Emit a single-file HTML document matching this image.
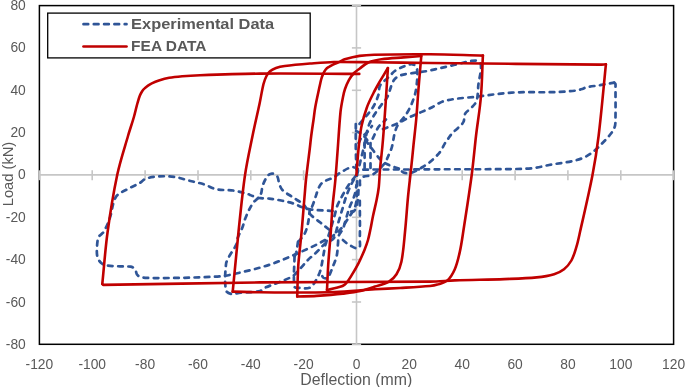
<!DOCTYPE html>
<html><head><meta charset="utf-8"><title>Load vs Deflection</title>
<style>html,body{margin:0;padding:0;background:#fff}svg{display:block}text{font-family:"Liberation Sans",sans-serif;fill:#595959}</style></head><body>
<svg width="685" height="387" viewBox="0 0 685 387">
<rect width="685" height="387" fill="#fff"/>
<rect x="39.4" y="5.6" width="634.2" height="338.7" fill="none" stroke="#000" stroke-width="1.5"/>
<g stroke="#c6c6c6" stroke-width="1.6" fill="none">
<line x1="39.4" y1="174.9" x2="673.6" y2="174.9" stroke-width="1.8"/>
<line x1="356.5" y1="5.6" x2="356.5" y2="344.3"/>
<line x1="39.4" y1="170.3" x2="39.4" y2="180.2"/>
<line x1="92.2" y1="170.3" x2="92.2" y2="180.2"/>
<line x1="145.1" y1="170.3" x2="145.1" y2="180.2"/>
<line x1="198.0" y1="170.3" x2="198.0" y2="180.2"/>
<line x1="250.8" y1="170.3" x2="250.8" y2="180.2"/>
<line x1="303.6" y1="170.3" x2="303.6" y2="180.2"/>
<line x1="356.5" y1="170.3" x2="356.5" y2="180.2"/>
<line x1="409.3" y1="170.3" x2="409.3" y2="180.2"/>
<line x1="462.2" y1="170.3" x2="462.2" y2="180.2"/>
<line x1="515.1" y1="170.3" x2="515.1" y2="180.2"/>
<line x1="567.9" y1="170.3" x2="567.9" y2="180.2"/>
<line x1="620.8" y1="170.3" x2="620.8" y2="180.2"/>
<line x1="673.6" y1="170.3" x2="673.6" y2="180.2"/>
<line x1="351.9" y1="344.3" x2="361.1" y2="344.3"/>
<line x1="351.9" y1="302.0" x2="361.1" y2="302.0"/>
<line x1="351.9" y1="259.6" x2="361.1" y2="259.6"/>
<line x1="351.9" y1="217.3" x2="361.1" y2="217.3"/>
<line x1="351.9" y1="174.9" x2="361.1" y2="174.9"/>
<line x1="351.9" y1="132.6" x2="361.1" y2="132.6"/>
<line x1="351.9" y1="90.3" x2="361.1" y2="90.3"/>
<line x1="351.9" y1="47.9" x2="361.1" y2="47.9"/>
<line x1="351.9" y1="5.6" x2="361.1" y2="5.6"/>
</g>
<g fill="none" stroke="#2f5597" stroke-width="2.7" stroke-linecap="round" stroke-linejoin="round" stroke-dasharray="4.6 5.6">
<path d="M383.0 129.0 C387.4 127.3 392.0 125.8 396.3 123.9 C401.3 121.7 406.0 118.8 411.0 116.5 C417.3 113.6 423.7 111.2 430.0 108.3 C435.0 106.0 439.5 102.1 444.9 100.8 C455.4 98.2 466.3 97.9 477.0 96.6 C488.6 95.2 500.2 93.3 511.9 92.6 C525.9 91.8 540.0 92.5 554.0 92.1 C561.0 91.9 568.0 91.5 575.0 90.7 C577.5 90.4 579.9 89.7 582.3 89.0 C583.6 88.6 584.7 87.7 586.0 87.4 C590.6 86.4 595.3 86.0 600.0 85.2 C604.7 84.4 609.5 83.5 614.2 82.7"/>
<path d="M614.2 82.7 C614.6 83.1 615.2 83.3 615.4 83.8 C615.7 84.8 615.5 85.9 615.5 87.0 C615.5 98.7 615.7 110.3 615.4 122.0 C615.4 123.9 615.2 125.8 614.5 127.5 C613.7 129.7 612.4 131.7 611.0 133.5 C608.7 136.5 606.1 139.3 603.5 142.0 C600.4 145.2 597.3 148.5 593.8 151.3 C591.1 153.5 588.2 155.5 585.0 157.0 C581.5 158.7 577.7 159.9 573.9 160.8 C565.7 162.6 557.3 163.5 549.1 165.0 C544.1 165.9 539.2 167.4 534.2 168.0 C528.4 168.7 522.6 168.9 516.8 169.0 C487.9 169.4 458.9 169.2 430.0 169.3 C421.2 169.3 412.4 169.5 403.6 169.5 C393.1 169.5 382.5 169.5 372.0 169.5 C368.0 169.5 364.0 170.0 360.0 169.5 C357.2 169.2 354.7 166.8 352.0 167.2 C348.1 167.7 344.7 170.2 341.3 172.1 C338.2 173.8 335.6 176.3 332.5 178.0 C329.7 179.5 326.3 179.9 323.6 181.7 C321.7 182.9 320.2 184.8 319.2 186.8 C317.5 190.0 316.7 193.7 315.5 197.1 C314.3 200.4 313.4 203.8 311.9 207.0 C311.5 207.9 310.5 208.5 309.8 209.3"/>
<path d="M332.6 211.0 C325.0 210.4 317.4 210.3 309.8 209.3 C307.0 208.9 304.2 208.0 301.5 207.0 C299.0 206.1 296.7 204.6 294.2 203.8 C290.3 202.5 286.4 201.6 282.4 200.8 C278.0 199.9 273.6 199.1 269.1 198.6 C265.7 198.2 262.2 198.5 258.8 197.9 C255.8 197.3 252.9 196.0 250.0 195.0 C249.6 194.8 249.2 194.4 248.8 194.3 C243.9 193.0 239.0 191.4 233.9 190.6 C228.2 189.7 222.3 190.5 216.6 189.3 C212.2 188.4 208.4 185.7 204.1 184.4 C199.2 182.9 194.2 181.9 189.3 180.7 C184.3 179.4 179.5 177.6 174.4 176.9 C169.5 176.2 164.5 176.1 159.5 176.4 C154.9 176.7 150.2 177.2 145.8 178.7 C143.4 179.5 141.8 181.8 139.6 183.1 C135.6 185.4 131.2 187.0 127.2 189.3 C123.3 191.6 118.3 193.0 116.0 196.8 C112.2 203.1 112.3 211.0 109.9 217.9 C108.2 222.8 106.2 227.6 103.6 232.0 C102.4 234.0 99.6 234.9 98.7 237.0 C97.3 240.1 97.2 243.6 97.0 246.9 C96.8 250.2 96.6 253.6 97.4 256.8 C98.0 259.1 99.4 261.4 101.2 263.0 C102.9 264.5 105.2 265.1 107.4 265.5 C111.5 266.2 115.8 266.1 120.0 266.3 C123.5 266.5 127.0 266.2 130.5 266.7 C131.8 266.9 133.0 267.4 134.0 268.2 C134.9 268.9 135.3 270.0 135.8 271.0 C136.3 272.1 136.3 273.5 137.0 274.5 C137.7 275.5 138.8 276.4 140.0 276.8 C142.3 277.6 144.7 277.8 147.1 277.9 C157.0 278.2 166.9 278.0 176.8 277.9 C185.1 277.8 193.4 277.6 201.7 277.2 C209.1 276.9 216.6 276.9 224.0 275.9 C230.7 275.0 237.2 273.2 243.8 271.7 C247.5 270.9 251.3 270.0 255.0 269.0 C260.9 267.4 266.8 265.7 272.6 263.7 C278.5 261.6 284.2 259.1 290.0 256.7 C295.9 254.2 301.8 251.5 307.7 248.8 C312.5 246.6 317.2 244.4 321.8 241.8 C327.3 238.7 333.2 236.2 337.9 232.0 C342.2 228.1 345.2 222.9 348.4 218.0 C351.0 214.1 354.0 210.3 355.4 205.8 C357.0 200.7 356.7 195.3 357.0 190.0 C357.3 185.0 357.0 180.0 357.0 175.0"/>
<path d="M329.0 229.5 C326.1 227.2 323.2 224.8 320.3 222.5 C317.1 219.9 313.4 217.7 310.6 214.6 C307.8 211.6 306.5 207.6 303.7 204.6 C301.9 202.6 299.3 201.5 297.0 200.0 C295.2 198.8 293.2 197.6 291.4 196.4 C288.4 194.4 285.1 192.8 282.6 190.2 C281.0 188.5 280.1 186.2 279.3 184.0 C278.4 181.8 278.6 179.2 277.6 177.0 C277.1 175.8 276.1 174.9 275.0 174.2 C274.1 173.7 273.0 173.5 272.0 173.6 C270.9 173.7 269.9 174.0 269.0 174.6 C268.0 175.3 267.2 176.3 266.6 177.3 C265.0 180.0 263.6 182.8 262.6 185.8 C261.8 188.0 262.0 190.5 261.3 192.8 C260.9 194.2 260.1 195.6 259.2 196.8 C257.3 199.2 254.4 200.8 252.7 203.4 C249.8 207.8 247.7 212.6 245.7 217.4 C244.2 220.8 243.6 224.5 242.2 228.0 C240.9 231.3 239.0 234.3 237.8 237.6 C237.0 239.8 237.4 242.3 236.4 244.4 C234.4 248.8 231.2 252.5 229.0 256.8 C227.8 259.2 226.2 261.6 226.0 264.3 C225.2 272.9 224.4 281.8 226.0 290.3 C226.4 292.4 229.3 293.6 231.4 294.0 C233.9 294.5 236.4 293.1 238.9 292.8 C245.9 292.1 253.1 292.4 260.0 291.0 C262.1 290.6 263.5 288.4 265.5 287.5 C270.7 285.2 276.2 283.5 281.4 281.3 C285.3 279.7 289.3 278.4 292.8 276.0 C295.9 273.9 298.1 270.8 300.7 268.1 C303.1 265.5 305.2 262.7 307.7 260.2 C310.5 257.4 313.6 255.0 316.5 252.3 C319.5 249.4 322.1 246.1 325.3 243.5 C327.8 241.5 331.3 240.8 333.5 238.5 C335.1 236.8 335.3 234.2 336.0 232.0 C337.1 228.5 337.7 224.9 338.7 221.4 C340.0 216.9 341.3 212.5 342.7 208.0 C344.0 203.7 345.1 199.2 346.7 195.0 C348.2 190.9 350.1 186.9 352.0 183.0 C353.2 180.6 354.7 178.3 356.0 176.0"/>
<path d="M357.0 175.0 C359.3 165.7 361.7 156.4 363.9 147.0 C365.5 140.3 366.2 133.4 368.3 126.8 C369.6 122.6 371.9 118.8 374.2 115.0 C376.4 111.4 379.0 108.1 381.5 104.7 C383.4 102.1 385.9 99.9 387.4 97.0 C389.4 93.0 390.2 88.4 391.9 84.2 C392.7 82.4 393.4 80.4 394.8 79.0 C396.4 77.3 398.5 76.0 400.7 75.3 C404.5 74.0 408.6 73.7 412.5 73.1 C417.4 72.3 422.3 72.0 427.2 71.0 C436.5 69.2 445.6 66.8 454.8 64.8 C461.8 63.3 468.8 60.6 476.0 60.6 C478.2 60.6 480.7 62.7 480.9 64.8 C481.6 71.5 479.1 78.1 478.4 84.7 C477.9 89.0 478.0 93.3 477.3 97.6 C477.0 99.5 476.6 101.4 475.6 103.0 C474.1 105.3 471.9 107.0 470.0 109.0 C468.4 110.6 466.2 111.6 465.2 113.6 C463.9 116.2 464.7 119.4 463.4 122.0 C462.2 124.4 459.9 126.1 458.0 128.0 C456.3 129.7 454.3 131.0 452.7 132.7 C450.9 134.6 449.5 136.9 448.0 139.0 C446.9 140.4 445.8 141.9 444.9 143.4 C443.2 146.2 442.1 149.4 440.0 152.0 C437.1 155.7 433.6 159.0 430.0 162.0 C427.2 164.3 424.1 166.1 421.0 168.0 C418.7 169.4 416.5 170.8 414.0 171.8 C412.1 172.6 410.0 173.1 408.0 173.2 C406.5 173.3 404.9 173.0 403.5 172.5 C402.3 172.1 401.6 170.9 400.5 170.3 C399.7 169.9 398.8 169.8 398.0 169.5"/>
<path d="M359.5 123.9 C363.9 118.5 368.9 113.5 372.7 107.7 C375.3 103.6 377.1 99.0 378.6 94.4 C379.5 91.6 378.5 88.2 380.0 85.7 C382.1 82.1 386.0 79.8 389.0 76.8 C390.9 74.9 392.6 72.6 394.8 71.0 C397.5 69.1 400.5 67.7 403.6 66.5 C406.5 65.4 409.5 64.0 412.5 64.3 C414.4 64.5 416.6 66.1 416.9 68.0 C417.9 74.8 417.1 81.8 416.2 88.6 C415.6 93.1 414.1 97.5 412.5 101.8 C410.9 105.9 408.9 109.9 406.6 113.6 C404.0 117.7 400.3 121.1 397.7 125.3 C396.3 127.6 395.5 130.1 394.8 132.7 C393.5 137.4 393.2 142.3 391.9 147.0 C391.0 150.2 389.5 153.2 388.2 156.2 C387.1 158.7 386.3 161.5 384.5 163.6 C381.0 167.7 377.3 171.7 372.7 174.6 C369.2 176.8 363.7 175.2 361.0 178.3 C358.7 180.9 360.5 185.2 360.2 188.6"/>
<path d="M294.5 256.7 C294.5 266.7 293.1 276.7 294.5 286.6 C294.7 288.1 297.4 287.7 298.9 287.8 C302.4 288.1 306.2 289.0 309.5 287.8 C311.9 286.9 313.4 284.4 314.8 282.2 C316.9 278.9 318.7 275.3 320.0 271.6 C321.4 267.6 321.9 263.4 322.7 259.3 C323.6 254.6 324.2 249.9 325.3 245.3 C325.8 243.2 326.6 241.2 327.3 239.2 C328.5 235.5 329.8 231.8 331.0 228.0 C332.3 223.6 333.5 219.2 334.8 214.8 C335.7 211.7 336.2 208.5 337.4 205.5 C338.9 201.9 340.8 198.4 342.7 195.0 C344.5 191.7 346.4 188.3 348.5 185.2 C350.7 182.0 353.2 179.1 355.5 176.0"/>
<path d="M298.0 241.8 C297.4 245.3 297.1 248.8 296.3 252.3 C295.9 253.8 295.1 255.2 294.5 256.7"/>
<path d="M309.8 209.3 C309.2 214.0 309.0 218.8 308.0 223.4 C307.2 227.0 306.3 230.7 304.5 234.0 C302.7 237.3 299.8 239.8 297.5 242.7"/>
<path stroke-dashoffset="7.2" d="M320.9 273.4 C321.7 274.8 322.2 276.4 323.3 277.6 C323.9 278.2 324.9 278.3 325.7 278.3 C326.5 278.3 327.6 278.3 328.0 277.6 C329.9 274.7 331.0 271.3 332.3 268.1 C333.9 264.1 335.7 260.0 336.7 255.8 C337.6 251.8 337.6 247.6 338.0 243.5 C338.3 240.9 337.9 238.2 338.7 235.8 C339.5 233.4 341.6 231.6 342.7 229.3 C343.9 226.8 344.5 224.0 345.3 221.4 C346.7 216.9 347.8 212.4 349.3 208.0 C350.9 203.6 353.2 199.5 354.6 195.0 C355.6 191.8 355.9 188.3 356.5 185.0"/>
<path d="M342.9 240.0 C345.2 241.8 347.3 244.0 349.9 245.3 C352.6 246.7 356.0 249.3 358.7 247.9 C361.0 246.6 359.7 242.7 359.8 240.0 C360.1 225.7 359.8 211.3 359.8 197.0"/>
<path d="M358.5 190.0 C358.3 193.3 358.3 196.7 357.8 200.0 C357.4 202.7 357.0 205.5 355.9 208.0 C355.2 209.6 354.2 211.6 352.5 212.0 C351.2 212.3 350.5 210.3 349.5 209.5"/>
<path d="M356.0 131.0 C357.7 131.8 359.5 132.4 361.0 133.5 C362.9 134.9 364.5 136.7 366.0 138.5 C367.2 139.9 368.0 141.5 369.0 143.0"/>
<path d="M358.5 143.0 C359.7 141.0 360.5 138.8 362.0 137.0 C363.6 135.1 365.8 133.8 367.5 132.0 C369.2 130.2 370.5 128.0 372.0 126.0"/>
<path d="M365.3 140.0 C368.3 143.9 371.2 147.9 374.2 151.8 C376.6 154.8 378.7 158.1 381.5 160.6 C383.7 162.5 386.4 163.8 389.0 165.0 C392.6 166.6 396.3 167.7 400.0 169.0"/>
<path d="M364.6 143.0 L364.6 169.5"/>
<path d="M370.5 143.0 L370.5 169.5"/>
<path d="M372.7 138.6 C374.7 134.7 376.1 130.4 378.6 126.8 C380.6 124.0 383.5 121.9 386.0 119.5"/>
<path d="M355.8 124.0 C355.8 131.7 355.7 139.3 355.8 147.0 C355.9 156.3 356.3 165.7 356.5 175.0"/>
</g>
<g fill="none" stroke="#c00000" stroke-width="2.6" stroke-linecap="round" stroke-linejoin="round">
<path d="M356.4 175.0 C356.9 168.2 357.4 161.5 358.0 154.7 C358.4 149.8 358.9 144.9 359.5 140.0 C360.1 135.1 360.6 130.1 361.7 125.3 C363.0 119.3 364.7 113.4 366.8 107.7 C368.6 102.6 371.1 97.8 373.5 93.0 C375.5 89.0 377.8 85.1 380.0 81.2 C382.6 76.8 385.3 72.4 387.9 68.0"/>
<path d="M387.9 68.0 C387.4 75.3 387.0 82.7 386.5 90.0 C385.9 99.8 385.2 109.7 384.5 119.5 C383.9 128.0 383.3 136.5 382.5 145.0 C381.8 153.2 380.7 161.3 380.0 169.5 C379.5 175.3 379.4 181.2 378.8 187.0 C378.3 191.4 377.5 195.7 376.6 200.0 C375.5 205.4 374.1 210.7 373.0 216.0 C372.1 220.3 371.4 224.7 370.5 229.0 C369.7 232.7 369.0 236.4 368.0 240.0 C367.0 243.4 365.8 246.7 364.5 250.0 C362.7 254.3 360.8 258.6 358.7 262.8 C356.6 267.0 354.2 271.1 351.7 275.1 C349.5 278.5 347.6 282.2 344.6 284.8 C342.7 286.5 340.0 286.8 337.6 287.5 C334.1 288.5 330.5 289.2 327.0 290.0"/>
<path d="M327.0 290.0 C327.4 281.7 327.7 273.3 328.2 265.0 C328.9 254.0 330.0 243.0 330.8 232.0 C331.4 223.7 331.8 215.3 332.5 207.0 C333.3 197.8 334.6 188.7 335.4 179.5 C336.3 169.0 337.0 158.5 337.8 148.0 C338.7 136.0 339.3 124.0 340.5 112.0 C341.0 107.0 342.0 102.0 343.0 97.0 C343.5 94.3 344.1 91.6 345.0 89.0 C346.1 85.8 347.4 82.7 349.0 79.8 C350.4 77.3 352.1 75.0 354.0 73.0 C355.6 71.3 357.6 70.1 359.5 68.7 C362.4 66.6 365.0 63.9 368.3 62.5 C372.5 60.7 377.0 59.9 381.5 59.3 C388.8 58.2 396.2 58.0 403.6 57.4 C409.5 56.9 415.4 56.5 421.3 56.0"/>
<path d="M421.3 56.0 C420.3 67.3 419.3 78.7 418.4 90.0 C417.6 99.8 417.1 109.7 416.2 119.5 C415.4 128.0 414.4 136.5 413.5 145.0 C412.7 153.2 411.9 161.3 411.0 169.5 C410.0 178.7 408.9 187.8 408.0 197.0 C406.9 208.7 406.2 220.4 405.0 232.0 C404.0 242.0 403.4 252.0 401.4 261.8 C400.5 266.2 398.9 270.4 396.5 274.2 C394.6 277.2 392.0 279.8 389.0 281.6 C384.7 284.1 379.7 285.1 375.0 286.6 C370.2 288.2 365.4 289.9 360.4 291.0 C354.6 292.3 348.8 292.9 342.9 293.6 C334.1 294.6 325.3 295.3 316.5 295.9 C310.1 296.3 303.6 296.3 297.2 296.5"/>
<path d="M297.2 296.5 C297.6 286.0 297.6 275.5 298.3 265.0 C299.0 255.0 300.4 245.0 301.3 235.0 C302.5 222.3 303.4 209.7 304.5 197.0 C305.0 191.2 305.4 185.3 306.0 179.5 C307.1 169.7 308.4 159.8 309.6 150.0 C310.2 145.3 310.6 140.7 311.2 136.0 C311.9 130.7 312.7 125.3 313.5 120.0 C314.1 115.7 314.5 111.3 315.3 107.0 C316.5 100.2 318.1 93.5 319.5 86.8 C320.1 84.2 320.6 81.6 321.3 79.0 C321.8 77.2 322.5 75.3 323.3 73.6 C323.9 72.3 324.6 70.9 325.5 69.8 C326.3 68.8 327.3 67.9 328.4 67.2 C329.8 66.2 331.4 65.4 333.0 64.6 C335.3 63.5 337.7 62.6 340.0 61.6 C341.6 60.9 343.0 59.8 344.7 59.3 C349.6 57.9 354.5 56.7 359.5 55.9 C364.4 55.1 369.3 54.8 374.2 54.7 C392.8 54.3 411.4 54.1 430.0 54.3 C447.6 54.4 465.3 55.2 482.9 55.6"/>
<path d="M482.9 55.6 C482.2 69.4 482.1 83.2 480.9 97.0 C479.8 110.1 477.5 123.0 476.0 136.0 C474.5 149.0 473.4 162.0 471.7 175.0 C469.2 194.0 466.1 213.0 463.2 232.0 C462.2 238.7 461.3 245.3 459.8 251.9 C458.5 257.8 457.2 263.7 454.8 269.2 C453.0 273.3 450.8 277.4 447.4 280.4 C444.7 282.8 440.8 283.5 437.4 284.6 C435.0 285.4 432.5 285.8 430.0 286.0 C420.0 286.9 410.0 287.4 400.0 288.0 C391.7 288.5 383.3 288.8 375.0 289.3 C361.5 290.1 348.0 291.4 334.4 292.0 C322.0 292.5 309.6 292.4 297.2 292.5 C284.8 292.6 272.4 292.5 260.0 292.3 C250.9 292.2 241.8 291.8 232.7 291.6"/>
<path d="M232.7 291.6 C234.6 271.7 236.4 251.8 238.5 232.0 C240.5 212.8 242.3 193.6 245.1 174.5 C247.0 161.6 249.9 148.8 252.5 136.0 C254.7 125.3 257.2 114.7 259.5 104.0 C260.9 97.3 261.9 90.6 263.5 84.0 C264.2 81.2 265.2 78.5 266.5 76.0 C267.4 74.3 268.5 72.6 270.0 71.3 C271.7 69.8 273.9 68.8 276.0 68.0 C278.8 67.0 281.8 66.4 284.8 66.0 C293.2 64.9 301.6 64.2 310.0 63.5 C318.0 62.9 326.0 62.2 334.0 62.0 C347.3 61.8 360.7 62.2 374.0 62.3 C392.7 62.5 411.3 62.8 430.0 63.0 C486.7 63.6 543.3 64.2 600.0 64.6 C602.0 64.6 603.9 64.4 605.9 64.3"/>
<path d="M605.9 64.3 C603.5 88.2 601.5 112.2 598.6 136.0 C597.0 149.1 595.0 162.1 592.5 175.0 C588.8 194.1 584.3 213.0 580.0 232.0 C578.9 237.0 577.9 242.0 576.4 246.9 C575.0 251.5 573.7 256.3 571.4 260.5 C569.5 263.8 567.0 266.8 564.0 269.2 C561.1 271.5 557.6 273.1 554.1 274.2 C548.5 275.9 542.6 276.8 536.7 277.4 C526.0 278.5 515.2 278.7 504.4 279.1 C487.9 279.7 471.3 279.8 454.8 280.4 C446.5 280.7 438.3 281.5 430.0 281.6 C373.3 282.2 316.7 281.8 260.0 282.4 C207.8 282.9 155.6 284.4 103.4 284.9 C102.9 284.9 102.7 284.3 102.3 284.0"/>
<path d="M102.3 284.0 C104.1 266.7 105.2 249.3 107.6 232.0 C110.2 212.7 113.3 193.5 117.3 174.5 C120.1 161.5 124.3 148.8 128.0 136.0 C129.8 129.6 132.1 123.4 133.9 117.0 C135.2 112.4 136.2 107.6 137.5 103.0 C138.2 100.6 138.9 98.1 139.8 95.8 C140.4 94.3 141.1 92.9 142.0 91.5 C142.7 90.4 143.6 89.3 144.6 88.4 C145.6 87.4 146.8 86.4 148.0 85.6 C149.2 84.8 150.5 84.0 151.8 83.4 C154.1 82.3 156.5 81.3 158.9 80.5 C162.3 79.4 165.7 78.4 169.2 77.8 C173.6 77.0 178.1 76.6 182.5 76.2 C188.3 75.7 194.2 75.4 200.0 75.2 C220.0 74.5 240.0 73.8 260.0 73.6 C293.1 73.3 326.2 73.8 359.3 73.9"/>
</g>

<rect x="47.7" y="13.1" width="262.5" height="44.8" fill="#fff" stroke="#000" stroke-width="1.3"/>
<line x1="83.5" y1="24.2" x2="126.5" y2="24.2" stroke="#2f5597" stroke-width="2.7" stroke-dasharray="4.7 5.6" stroke-linecap="round"/>
<line x1="83.5" y1="46.5" x2="126.5" y2="46.5" stroke="#c00000" stroke-width="2.7" stroke-linecap="round"/>
<text x="131.1" y="29.3" font-size="15.5" font-weight="bold" textLength="143" lengthAdjust="spacingAndGlyphs">Experimental Data</text>
<text x="131.1" y="51.2" font-size="15.5" font-weight="bold" textLength="75.4" lengthAdjust="spacingAndGlyphs">FEA DATA</text>
<text x="25.8" y="348.8" font-size="13.8" text-anchor="end">-80</text>
<text x="25.8" y="306.5" font-size="13.8" text-anchor="end">-60</text>
<text x="25.8" y="264.1" font-size="13.8" text-anchor="end">-40</text>
<text x="25.8" y="221.8" font-size="13.8" text-anchor="end">-20</text>
<text x="25.8" y="179.4" font-size="13.8" text-anchor="end">0</text>
<text x="25.8" y="137.1" font-size="13.8" text-anchor="end">20</text>
<text x="25.8" y="94.8" font-size="13.8" text-anchor="end">40</text>
<text x="25.8" y="52.4" font-size="13.8" text-anchor="end">60</text>
<text x="25.8" y="10.1" font-size="13.8" text-anchor="end">80</text>
<text x="39.4" y="369.1" font-size="13.8" text-anchor="middle">-120</text>
<text x="92.2" y="369.1" font-size="13.8" text-anchor="middle">-100</text>
<text x="145.1" y="369.1" font-size="13.8" text-anchor="middle">-80</text>
<text x="198.0" y="369.1" font-size="13.8" text-anchor="middle">-60</text>
<text x="250.8" y="369.1" font-size="13.8" text-anchor="middle">-40</text>
<text x="303.6" y="369.1" font-size="13.8" text-anchor="middle">-20</text>
<text x="356.5" y="369.1" font-size="13.8" text-anchor="middle">0</text>
<text x="409.3" y="369.1" font-size="13.8" text-anchor="middle">20</text>
<text x="462.2" y="369.1" font-size="13.8" text-anchor="middle">40</text>
<text x="515.1" y="369.1" font-size="13.8" text-anchor="middle">60</text>
<text x="567.9" y="369.1" font-size="13.8" text-anchor="middle">80</text>
<text x="620.8" y="369.1" font-size="13.8" text-anchor="middle">100</text>
<text x="673.6" y="369.1" font-size="13.8" text-anchor="middle">120</text>
<text x="356.3" y="384.6" font-size="16" text-anchor="middle" textLength="112" lengthAdjust="spacingAndGlyphs">Deflection (mm)</text>
<text transform="translate(12.7,174) rotate(-90)" font-size="14.8" text-anchor="middle" textLength="64.5" lengthAdjust="spacingAndGlyphs">Load (kN)</text>
</svg>
</body></html>
